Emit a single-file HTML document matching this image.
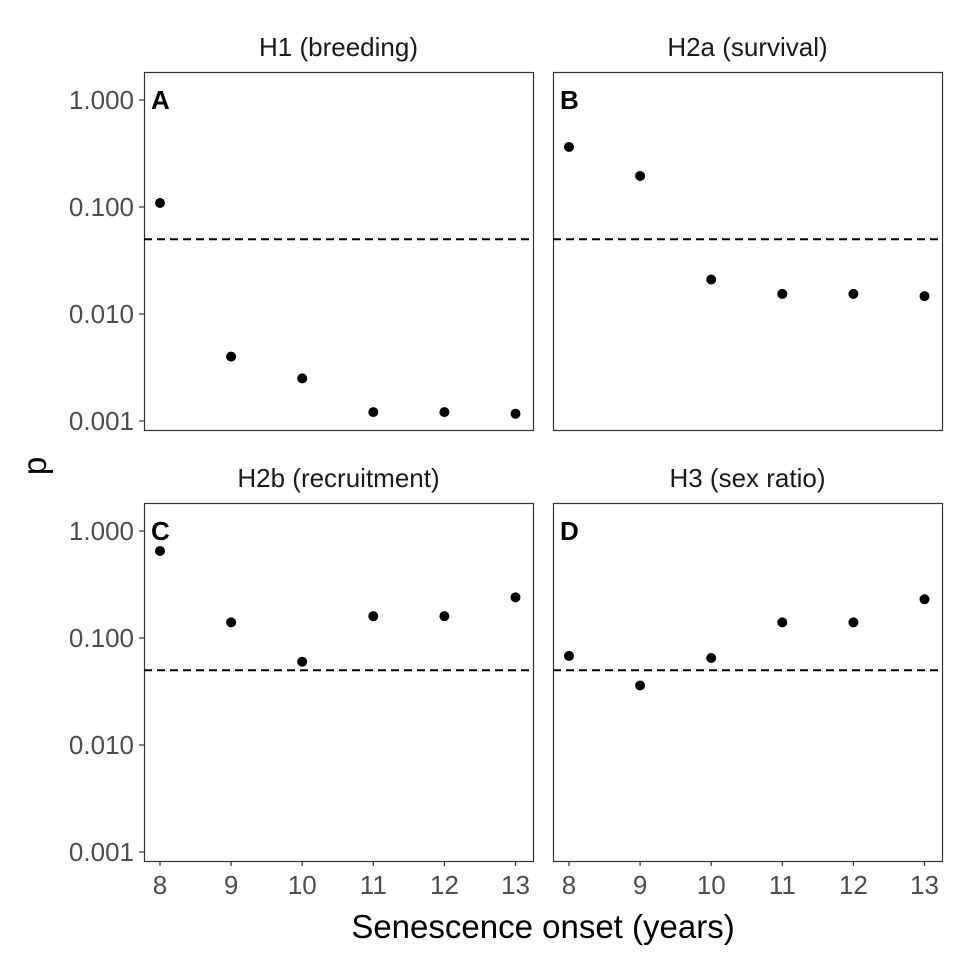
<!DOCTYPE html>
<html><head><meta charset="utf-8"><style>
body{margin:0;background:#fff}
svg text{font-family:"Liberation Sans",sans-serif}
</style></head><body>
<svg id="c" width="960" height="960"></svg>
<script>
const years=[8,9,10,11,12,13];
const titles=["H1 (breeding)","H2a (survival)","H2b (recruitment)","H3 (sex ratio)"];
const tags=["A","B","C","D"];
const pA=[0.109,0.0040,0.0025,0.00121,0.00121,0.00117];
const pB=[0.364,0.195,0.021,0.0154,0.0154,0.0147];
const pC=[0.65,0.14,0.060,0.16,0.16,0.24];
const pD=[0.068,0.036,0.065,0.14,0.14,0.23];
const yTicks=[1,0.1,0.01,0.001];
const yTickLabels=["1.000","0.100","0.010","0.001"];
const threshold=0.05;
const series=[pA,pB,pC,pD];
const NS="http://www.w3.org/2000/svg";
const svg=document.getElementById('c');
function mk(t,a,p){const e=document.createElementNS(NS,t);for(const k in a)e.setAttribute(k,a[k]);(p||svg).appendChild(e);return e;}
const panels=[{x0:144,y0:72},{x0:553,y0:72},{x0:144,y0:503},{x0:553,y0:503}];
const W=389,H=358;
for(let i=0;i<4;i++){
  const P=panels[i];
  const g=mk('g',{});
  
  
  const xs=v=>P.x0+16+(v-8)*71.1;
  const ys=v=>P.y0+28-Math.log10(v)*107;
  const b=mk('rect',{x:P.x0+0.5,y:P.y0+0.5,width:W,height:H,fill:'none',stroke:'#333','stroke-width':1.2},g);
  
  
  const t=mk('text',{x:P.x0+W/2,y:P.y0-16,'text-anchor':'middle','font-size':26,fill:'#1a1a1a'},g);
  t.textContent=titles[i];
  
  
  const tg=mk('text',{x:P.x0+7,y:P.y0+37,'font-size':26,'font-weight':'bold',fill:'#000'},g);
  tg.textContent=tags[i];
  
  
  const th=mk('line',{x1:P.x0,x2:P.x0+W,y1:ys(threshold),y2:ys(threshold),stroke:'#000','stroke-width':2,'stroke-dasharray':'8,5'},g);
  
  
  if(i%2===0){
    yTicks.forEach((v,k)=>{
      mk('line',{x1:P.x0-5,x2:P.x0,y1:ys(v),y2:ys(v),stroke:'#333','stroke-width':1.2},g);
      const l=mk('text',{x:P.x0-10,y:ys(v)+9,'text-anchor':'end','font-size':26,fill:'#4d4d4d'},g);
      l.textContent=yTickLabels[k];
      
      
    });
  }
  if(i>=2){
    years.forEach(v=>{
      mk('line',{x1:xs(v),x2:xs(v),y1:P.y0+H,y2:P.y0+H+5,stroke:'#333','stroke-width':1.2},g);
      const l=mk('text',{x:xs(v),y:P.y0+H+33,'text-anchor':'middle','font-size':26,fill:'#4d4d4d'},g);
      l.textContent=v;
      
      
    });
  }
  series[i].forEach((v,k)=>{
    const c=mk('circle',{cx:xs(years[k]),cy:ys(v),r:5,fill:'#000'},g);
    
    
  });
}
const xt=mk('text',{x:543,y:938,'text-anchor':'middle','font-size':33,fill:'#000'});
xt.textContent="Senescence onset (years)";


const yt=mk('text',{x:0,y:0,'text-anchor':'middle','font-size':33,fill:'#000',transform:'translate(46,466) rotate(-90)'});
yt.textContent="p";


</script>
</body></html>
